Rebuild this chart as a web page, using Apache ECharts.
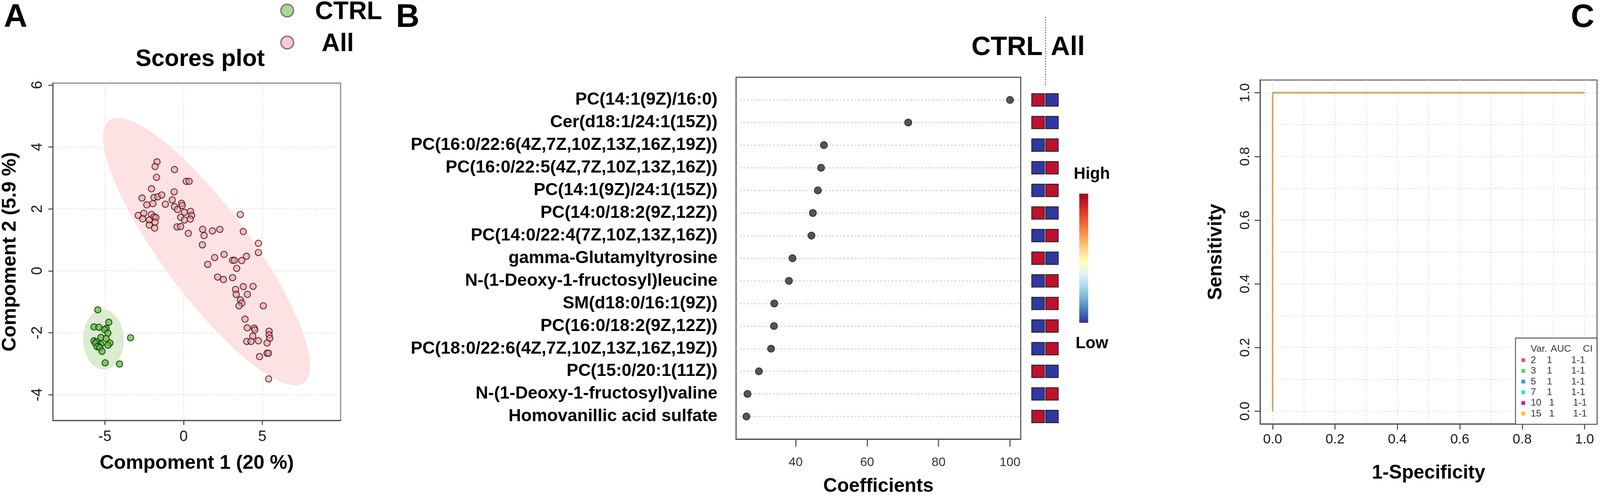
<!DOCTYPE html>
<html>
<head>
<meta charset="utf-8">
<title>Scores plot, coefficients and ROC</title>
<script src="https://cdn.jsdelivr.net/npm/echarts@6.0.0/dist/echarts.min.js"></script>
<style>
	html, body { margin: 0; padding: 0; background: #fff; overflow: hidden; }
	#chart { width: 100vw; height: 100vh; }
</style>
</head>
<body>
<div id="chart"></div>
<script>
var FONT = '"Liberation Sans", Arial, Helvetica, sans-serif';

// panel A: scores
var ctrlScores = [[-5.45,-1.26],[-4.75,-1.66],[-5.69,-1.81],[-5.38,-1.82],[-4.92,-1.86],[-5.02,-1.90],[-4.81,-2.01],
	[-3.37,-2.16],[-5.25,-2.15],[-4.92,-2.19],[-5.69,-2.26],[-5.53,-2.29],[-4.68,-2.33],[-5.60,-2.34],[-5.26,-2.37],
	[-4.81,-2.40],[-5.40,-2.43],[-5.49,-2.45],[-5.32,-2.48],[-5.18,-2.60],[-4.98,-2.97],[-4.07,-3.01]];
var allScores = [[-1.69,3.52],[-1.81,3.37],[-1.72,3.02],[-0.58,3.27],[0.17,2.89],[0.35,2.89],[-2.04,2.65],[-0.60,2.55],
	[-2.64,2.35],[-1.88,2.37],[-1.64,2.39],[-1.39,2.45],[-2.34,2.13],[-1.95,2.17],[-1.16,2.15],[-0.72,2.29],[-0.58,2.07],
	[-0.39,1.98],[-0.13,2.18],[-0.09,2.11],[0.05,1.89],[0.44,1.92],[0.51,1.79],[0.42,1.67],[-0.19,1.73],[0.05,1.64],
	[-2.88,1.79],[-2.53,1.86],[-2.60,1.68],[-2.18,1.64],[-2.04,1.82],[-1.88,1.74],[-1.76,1.72],[-1.81,1.57],[-2.18,1.48],
	[-1.84,1.38],[-0.42,1.42],[-0.19,1.43],[0.30,1.21],[1.21,1.34],[1.30,1.14],[1.83,1.29],[2.30,1.34],[3.60,1.82],
	[3.79,1.27],[1.19,0.84],[4.75,0.89],[4.75,0.59],[1.97,0.43],[2.57,0.53],[1.53,0.21],[3.11,0.34],[3.23,0.34],[3.69,0.33],
	[3.99,0.47],[3.37,0.08],[2.16,-0.20],[2.53,-0.28],[3.11,-0.22],[3.79,-0.51],[4.41,-0.50],[3.30,-0.60],[3.34,-0.76],
	[4.05,-0.76],[3.61,-0.94],[3.70,-1.04],[3.52,-1.13],[5.06,-1.13],[3.90,-1.56],[4.04,-1.84],[4.48,-1.85],[4.52,-1.91],
	[4.39,-2.11],[4.01,-2.28],[4.28,-2.28],[4.75,-2.26],[5.43,-1.95],[5.43,-2.07],[5.47,-2.18],[5.30,-2.33],[4.82,-2.77],
	[5.30,-2.66],[5.39,-2.66],[5.40,-3.49]];
var ctrlEllipseCenter = [-5.09, -2.22];
var ctrlEllipseAxisA = [-0.03, 0.97];
var ctrlEllipseAxisB = [1.29, 0.0];
var allEllipseCenter = [1.46, 0.62];
var allEllipseAxisA = [6.22, -4.22];
var allEllipseAxisB = [-2.13, -0.91];
var scoreXTicks = [-5, 0, 5];
var scoreYTicks = [-4, -2, 0, 2, 4, 6];

// panel B: coefficients
var features = ['PC(14:1(9Z)/16:0)', 'Cer(d18:1/24:1(15Z))', 'PC(16:0/22:6(4Z,7Z,10Z,13Z,16Z,19Z))',
	'PC(16:0/22:5(4Z,7Z,10Z,13Z,16Z))', 'PC(14:1(9Z)/24:1(15Z))', 'PC(14:0/18:2(9Z,12Z))',
	'PC(14:0/22:4(7Z,10Z,13Z,16Z))', 'gamma-Glutamyltyrosine', 'N-(1-Deoxy-1-fructosyl)leucine',
	'SM(d18:0/16:1(9Z))', 'PC(16:0/18:2(9Z,12Z))', 'PC(18:0/22:6(4Z,7Z,10Z,13Z,16Z,19Z))',
	'PC(15:0/20:1(11Z))', 'N-(1-Deoxy-1-fructosyl)valine', 'Homovanillic acid sulfate'];
var coefficients = [100, 71.5, 47.9, 47.1, 46.2, 44.8, 44.4, 39.1, 38.1, 34.0, 33.9, 33.1, 29.7, 26.5, 26.2];
var ctrlHigh = [1, 1, 0, 0, 0, 1, 0, 1, 0, 0, 0, 0, 1, 0, 1];
var allHigh  = [0, 0, 1, 1, 1, 0, 1, 0, 1, 1, 1, 1, 0, 1, 0];
var groups = ['CTRL', 'All'];
var coefTicks = [40, 60, 80, 100];
var featureRows = features.map(function (f, i) { return i + 1; });

// panel C: ROC
var rocFpr = [0, 0, 1];
var rocTpr = [0, 1, 1];
var rocVars = ['2', '3', '5', '7', '10', '15'];
var rocAuc = ['1', '1', '1', '1', '1', '1'];
var rocCI = ['1-1', '1-1', '1-1', '1-1', '1-1', '1-1'];
var rocColors = ['#df536b', '#61d04f', '#2297e6', '#28e2e5', '#cd0bbc', '#f5c710'];
var rocTicks = [0, 0.2, 0.4, 0.6, 0.8, 1];
var rocGridValues = [0, 0.1, 0.2, 0.3, 0.4, 0.5, 0.6, 0.7, 0.8, 0.9, 1];

var RED = '#bb1230', BLUE = '#2f38a0';

var chart = echarts.init(document.getElementById('chart'), null, { renderer: 'canvas' });
// layout was measured on a 4317 x 1286 picture; scale it to the real viewport
var sx = chart.getWidth() / 4317, sy = chart.getHeight() / 1286, sf = Math.min(sx, sy);
function px(v) { return v * sx; }
function py(v) { return v * sy; }
function fs(v) { return v * sf; }

var dotted = { type: [fs(3), fs(5)], color: '#d6d6d6', width: fs(2) };

function ellipse(center, axA, axB, fill) {
	return {
		type: 'custom', xAxisIndex: 0, yAxisIndex: 0, silent: true, z: 1,
		data: [center],
		renderItem: function (params, api) {
			var pts = [];
			for (var k = 0; k < 180; k++) {
				var t = k / 180 * Math.PI * 2;
				pts.push(api.coord([
					center[0] + axA[0] * Math.cos(t) + axB[0] * Math.sin(t),
					center[1] + axA[1] * Math.cos(t) + axB[1] * Math.sin(t)
				]));
			}
			return { type: 'polygon', shape: { points: pts }, style: { fill: fill } };
		}
	};
}

function txt(s, x, y, size, align, opts) {
	opts = opts || {};
	return {
		type: 'text', x: px(x), y: py(y), z: 100,
		style: {
			text: s, fill: opts.color || '#000',
			font: (opts.weight || 'bold') + ' ' + fs(size) + 'px ' + FONT,
			align: align || 'center', verticalAlign: 'middle'
		}
	};
}

var graphics = [
	txt('A', 42, 46, 88), txt('B', 1100, 46, 88), txt('C', 4270, 46, 88),
	txt('Scores plot', 540, 152, 64),
	{ type: 'circle', shape: { cx: px(775), cy: py(27), r: fs(17) }, style: { fill: '#a6dc90', stroke: '#808080', lineWidth: fs(4) }, z: 100 },
	{ type: 'circle', shape: { cx: px(775), cy: py(109), r: fs(17) }, style: { fill: '#ffc9cc', stroke: '#808080', lineWidth: fs(4) }, z: 100 },
	txt(groups[0], 850, 31, 68, 'left'), txt(groups[1], 868, 113, 68, 'left'),
	txt(groups[0], 2813, 122, 72, 'right'), txt(groups[1], 2835, 122, 72, 'left'),
	{ type: 'line', shape: { x1: px(2821), y1: py(43), x2: px(2821), y2: py(222) }, style: { stroke: '#555', lineWidth: fs(2.5), lineDash: [fs(3), fs(4)] }, z: 100 },
	{ type: 'rect', shape: { x: px(2912), y: py(496), width: px(24), height: py(331) }, z: 100,
		style: { fill: new echarts.graphic.LinearGradient(0, 0, 0, 1, [
			{ offset: 0, color: '#a50026' }, { offset: 0.12, color: '#d73027' }, { offset: 0.25, color: '#f46d43' },
			{ offset: 0.36, color: '#fdae61' }, { offset: 0.45, color: '#fee090' }, { offset: 0.53, color: '#ffffbf' },
			{ offset: 0.62, color: '#e0f3f8' }, { offset: 0.72, color: '#abd9e9' }, { offset: 0.82, color: '#74add1' },
			{ offset: 0.91, color: '#4575b4' }, { offset: 1, color: '#313695' }]) } },
	txt('High', 2946, 446, 44), txt('Low', 2946, 880, 44),
	{ type: 'rect', shape: { x: px(4089), y: py(866), width: px(220), height: py(221) }, style: { fill: '#fff', stroke: '#555', lineWidth: fs(2.5) }, z: 90 },
	txt('Var.', 4130, 894, 26, 'left', { weight: 'normal', color: '#333' }),
	txt('AUC', 4184, 894, 26, 'left', { weight: 'normal', color: '#333' }),
	txt('CI', 4297, 894, 26, 'right', { weight: 'normal', color: '#333' })
];
rocVars.forEach(function (v, i) {
	var y = 923 + 27.4 * i;
	graphics.push({ type: 'rect', shape: { x: px(4105), y: py(y - 5), width: fs(10), height: fs(10) }, style: { fill: rocColors[i] }, z: 100 });
	graphics.push(txt(v, 4130, y, 26, 'left', { weight: 'normal', color: '#333' }));
	graphics.push(txt(rocAuc[i], v.length > 1 ? 4187 : 4181, y, 26, 'center', { weight: 'normal', color: '#333' }));
	graphics.push(txt(rocCI[i], v.length > 1 ? 4263 : 4258, y, 26, 'center', { weight: 'normal', color: '#333' }));
});

function axisLine(color) { return { show: true, onZero: false, lineStyle: { color: color, width: fs(3) } }; }
function ticks(len, values) { return { show: true, length: fs(len), customValues: values, lineStyle: { color: '#555', width: fs(3) } }; }
function nameStyle(size) { return { fontSize: fs(size), fontWeight: 'bold', color: '#000' }; }

var option = {
	animation: false,
	backgroundColor: '#fff',
	textStyle: { fontFamily: FONT },
	graphic: graphics,
	grid: [
		{ left: px(142), top: py(213), width: px(777), height: py(864), show: true, borderColor: '#8a8a8a', borderWidth: fs(3) },
		{ left: px(1986), top: py(198), width: px(768), height: py(927), show: true, borderColor: '#555', borderWidth: fs(3) },
		{ left: px(2782), top: py(198), width: px(75), height: py(927) },
		{ left: px(3400), top: py(205), width: px(909), height: py(881), show: true, borderColor: '#707070', borderWidth: fs(3) }
	],
	xAxis: [
		{ gridIndex: 0, type: 'value', min: -8.3, max: 9.97,
			axisLine: axisLine('#555'), axisTick: ticks(12, scoreXTicks),
			axisLabel: { customValues: scoreXTicks, fontSize: fs(40), color: '#1a1a1a', margin: fs(25) },
			splitLine: { show: true, lineStyle: dotted },
			name: 'Compoment 1 (20 %)', nameLocation: 'middle', nameGap: fs(90), nameTextStyle: nameStyle(53) },
		{ gridIndex: 1, type: 'value', min: 23.3, max: 103,
			axisLine: axisLine('#555'), axisTick: ticks(20, coefTicks),
			axisLabel: { customValues: coefTicks, fontSize: fs(34), color: '#2f352f', margin: fs(46) },
			splitLine: { show: false },
			name: 'Coefficients', nameLocation: 'middle', nameGap: fs(102), nameTextStyle: nameStyle(52) },
		{ gridIndex: 2, type: 'category', data: groups, show: false },
		{ gridIndex: 3, type: 'value', min: -0.04, max: 1.04,
			axisLine: axisLine('#555'), axisTick: ticks(15, rocTicks),
			axisLabel: { customValues: rocTicks, fontSize: fs(37), color: '#1a1a1a', margin: fs(24),
				formatter: function (v) { return v.toFixed(1); } },
			splitLine: { show: false },
			name: '1-Specificity', nameLocation: 'middle', nameGap: fs(107), nameTextStyle: nameStyle(52) },
		{ gridIndex: 3, type: 'value', min: -0.04, max: 1.04, position: 'bottom',
			axisLine: { show: false }, axisLabel: { show: false },
			axisTick: { show: false, customValues: rocGridValues },
			splitLine: { show: true, lineStyle: dotted } }
	],
	yAxis: [
		{ gridIndex: 0, type: 'value', min: -4.83, max: 6.06,
			axisLine: axisLine('#555'), axisTick: ticks(12, scoreYTicks),
			axisLabel: { customValues: scoreYTicks, fontSize: fs(40), color: '#1a1a1a', margin: fs(21), rotate: 90 },
			splitLine: { show: true, lineStyle: dotted },
			name: 'Compoment 2 (5.9 %)', nameLocation: 'middle', nameGap: fs(89), nameTextStyle: nameStyle(53) },
		{ gridIndex: 1, type: 'value', min: 0, max: 16, inverse: true,
			axisLine: { show: false }, axisTick: { show: false, customValues: featureRows },
			axisLabel: { customValues: featureRows, fontSize: fs(47), fontWeight: 'bold', color: '#000', margin: fs(50),
				formatter: function (v) { return features[v - 1] || ''; } },
			splitLine: { show: true, lineStyle: { type: [fs(4), fs(6)], color: '#c8c8c8', width: fs(2.5) } } },
		{ gridIndex: 2, type: 'value', min: 0, max: 16, inverse: true, show: false },
		{ gridIndex: 3, type: 'value', min: -0.04, max: 1.04,
			axisLine: axisLine('#555'), axisTick: ticks(15, rocTicks),
			axisLabel: { customValues: rocTicks, fontSize: fs(37), color: '#1a1a1a', margin: fs(21), rotate: 90,
				formatter: function (v) { return v.toFixed(1); } },
			splitLine: { show: false },
			name: 'Sensitivity', nameLocation: 'middle', nameGap: fs(93), nameTextStyle: nameStyle(52) },
		{ gridIndex: 3, type: 'value', min: -0.04, max: 1.04, position: 'left',
			axisLine: { show: false }, axisLabel: { show: false },
			axisTick: { show: false, customValues: rocGridValues },
			splitLine: { show: true, lineStyle: dotted } }
	],
	series: [
		ellipse(allEllipseCenter, allEllipseAxisA, allEllipseAxisB, '#fde1e3'),
		ellipse(ctrlEllipseCenter, ctrlEllipseAxisA, ctrlEllipseAxisB, '#d8eecf'),
		{ type: 'scatter', name: 'All', xAxisIndex: 0, yAxisIndex: 0, z: 3, data: allScores, symbolSize: fs(17),
			itemStyle: { color: 'rgba(255,150,160,0.55)', borderColor: 'rgba(45,20,20,0.8)', borderWidth: fs(2.5), opacity: 1 } },
		{ type: 'scatter', name: 'CTRL', xAxisIndex: 0, yAxisIndex: 0, z: 3, data: ctrlScores, symbolSize: fs(17),
			itemStyle: { color: 'rgba(95,190,65,0.75)', borderColor: 'rgba(20,50,10,0.85)', borderWidth: fs(2.5), opacity: 1 } },
		{ type: 'scatter', xAxisIndex: 1, yAxisIndex: 1, z: 3, symbolSize: fs(19),
			data: coefficients.map(function (c, i) { return [c, i + 1]; }),
			itemStyle: { color: '#555', borderColor: '#2a2a2a', borderWidth: fs(2), opacity: 1 } },
		{ type: 'scatter', xAxisIndex: 2, yAxisIndex: 2, z: 3, symbol: 'rect', symbolSize: [px(34), py(32)],
			data: features.map(function (f, i) { return [0, i + 1, ctrlHigh[i]]; })
				.concat(features.map(function (f, i) { return [1, i + 1, allHigh[i]]; })),
			itemStyle: { color: function (p) { return p.data[2] ? RED : BLUE; }, borderColor: '#1a1a1a', borderWidth: fs(2), opacity: 1 } }
	].concat(rocVars.map(function (v, i) {
		return { type: 'line', name: v, xAxisIndex: 3, yAxisIndex: 3, z: 3, symbol: 'none', clip: false,
			data: rocFpr.map(function (x, k) { return [x, rocTpr[k]]; }),
			itemStyle: { color: rocColors[i] },
			lineStyle: { color: '#d5a96c', width: fs(4) } };
	}))
};

chart.setOption(option);
</script>
</body>
</html>
